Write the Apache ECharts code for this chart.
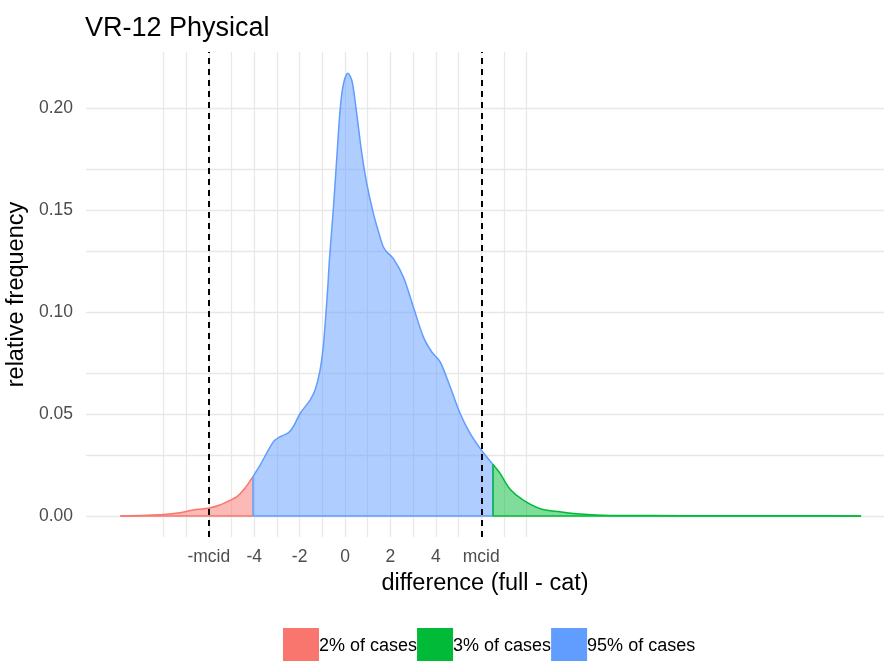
<!DOCTYPE html>
<html>
<head>
<meta charset="utf-8">
<script src="https://cdn.jsdelivr.net/npm/echarts@6/dist/echarts.min.js"></script>
<style>
  html, body { margin: 0; padding: 0; background: #fff; }
  #chart { width: 884px; height: 661px; }
</style>
</head>
<body>
<div id="chart"></div>
<script>
// Density of the score difference, split into three shaded regions
const mcid = 6;

// lower tail (below the 2.5% cut)
const lowerX = [-9.9, -9.0, -8.0, -7.27, -6.8, -6.47, -6.03, -5.51, -5.1, -4.76, -4.41, -4.06];
const lowerY = [0.0, 0.0003, 0.0007, 0.0016, 0.0027, 0.0033, 0.0038, 0.0054, 0.0075, 0.0095, 0.0136, 0.0193];

// central region
const middleX = [-4.06, -3.74, -3.16, -2.86, -2.50, -2.28, -1.98, -1.54, -1.32, -1.10, -0.96, -0.84, -0.74,
  -0.69, -0.52, -0.37, -0.22, -0.07, 0.12, 0.30, 0.44, 0.59, 0.74, 0.96, 1.25, 1.54, 1.69, 1.84,
  2.13, 2.57, 3.01, 3.45, 3.82, 4.19, 4.63, 5.07, 5.51, 5.95, 6.50];
const middleY = [0.0193, 0.025, 0.0364, 0.0389, 0.0408, 0.0438, 0.0503, 0.0569, 0.0618, 0.0716, 0.083, 0.0995, 0.1157,
  0.1255, 0.15, 0.1745, 0.199, 0.212, 0.2173, 0.2137, 0.2039, 0.1908, 0.1778, 0.163, 0.1484, 0.137, 0.132, 0.1296,
  0.1263, 0.1173, 0.1026, 0.0879, 0.0805, 0.0756, 0.0634, 0.0503, 0.0405, 0.0332, 0.0255];

// upper tail
const upperX = [6.50, 6.83, 7.27, 7.85, 8.67, 9.47, 10.35, 11.67, 13.5, 16.0, 19.0, 22.73];
const upperY = [0.0255, 0.0209, 0.0131, 0.0078, 0.0033, 0.0021, 0.001, 0.0003, 0.0002, 0.0001, 0.0001, 0.0];

const regionNames = ['2% of cases', '3% of cases', '95% of cases'];
const regionColors = ['#F8766D', '#00BA38', '#619CFF'];

const xTicks = [-mcid, -4, -2, 0, 2, 4, mcid];
const xTickText = ['-mcid', '-4', '-2', '0', '2', '4', 'mcid'];
const yTicks = [0, 0.05, 0.10, 0.15, 0.20];
const xGrid = [-8, -7, -6, -5, -4, -3, -2, -1, 0, 1, 2, 3, 4, 5, 6, 7, 8];
const yGrid = [0, 0.025, 0.05, 0.075, 0.1, 0.125, 0.15, 0.175, 0.2, 0.225];

const zip = (xs, ys) => xs.map((x, i) => [x, ys[i]]);

function region(name, color, xs, ys, edges) {
  const x0 = xs[0], x1 = xs[xs.length - 1];
  const outline = [[{ coord: [x0, 0] }, { coord: [x1, 0] }]];
  if (edges.left) outline.push([{ coord: [x0, 0] }, { coord: [x0, ys[0]] }]);
  if (edges.right) outline.push([{ coord: [x1, 0] }, { coord: [x1, ys[ys.length - 1]] }]);
  return {
    name: name,
    type: 'line',
    data: zip(xs, ys),
    smooth: 0.3,
    showSymbol: false,
    symbol: 'none',
    z: 3,
    lineStyle: { color: color, width: 1.5 },
    itemStyle: { color: color },
    areaStyle: { color: color, opacity: 0.5 },
    markLine: {
      silent: true,
      symbol: 'none',
      z: 4,
      label: { show: false },
      lineStyle: { color: color, width: 1.5, type: 'solid' },
      emphasis: { disabled: true },
      data: outline
    }
  };
}

const chart = echarts.init(document.getElementById('chart'));

chart.setOption({
  animation: false,
  backgroundColor: '#ffffff',
  textStyle: { fontFamily: 'Liberation Sans, Arial, sans-serif' },
  title: {
    text: 'VR-12 Physical',
    left: 80,
    top: 10,
    textStyle: { fontSize: 27, fontWeight: 'normal', color: '#000' }
  },
  grid: { left: 86, right: 0, top: 52, bottom: 124, outerBoundsMode: 'none', containLabel: false },
  xAxis: {
    type: 'value',
    min: -11.41,
    max: 23.74,
    axisLine: { show: false },
    axisTick: { show: false },
    splitLine: { show: false },
    axisLabel: {
      customValues: xTicks,
      color: '#4d4d4d',
      fontSize: 17.5,
      margin: 11,
      formatter: v => xTickText[xTicks.indexOf(v)] ?? ''
    },
    name: 'difference (full - cat)',
    nameLocation: 'middle',
    nameGap: 35,
    nameTextStyle: { fontSize: 23.5, color: '#000' }
  },
  yAxis: {
    type: 'value',
    min: -0.0103,
    max: 0.2277,
    axisLine: { show: false },
    axisTick: { show: false },
    splitLine: { show: false },
    axisLabel: {
      customValues: yTicks,
      color: '#4d4d4d',
      fontSize: 17.5,
      margin: 13,
      formatter: v => v.toFixed(2)
    },
    name: 'relative frequency',
    nameLocation: 'middle',
    nameGap: 52,
    nameTextStyle: { fontSize: 23.5, color: '#000' }
  },
  legend: {
    data: regionNames.map((n, i) => ({ name: n, icon: 'rect', itemStyle: { color: regionColors[i], opacity: 1 } })),
    left: 283,
    top: 628,
    padding: 0,
    itemWidth: 36,
    itemHeight: 36,
    itemGap: 0,
    textStyle: { fontSize: 18, color: '#000', padding: [8, 0, 0, -5] }
  },
  series: [
    {
      name: 'grid',
      type: 'line',
      data: [],
      silent: true,
      markLine: {
        silent: true,
        symbol: 'none',
        z: 1,
        label: { show: false },
        lineStyle: { color: '#e8e8e8', width: 1.3, type: 'solid' },
        emphasis: { disabled: true },
        data: xGrid.map(v => ({ xAxis: v })).concat(yGrid.map(v => ({ yAxis: v })))
      }
    },
    region(regionNames[0], regionColors[0], lowerX, lowerY, { left: false, right: false }),
    region(regionNames[2], regionColors[2], middleX, middleY, { left: true, right: true }),
    region(regionNames[1], regionColors[1], upperX, upperY, { left: true, right: false }),
    {
      name: 'mcid',
      type: 'line',
      data: [],
      silent: true,
      markLine: {
        silent: true,
        symbol: 'none',
        z: 10,
        label: { show: false },
        lineStyle: { color: '#000', width: 2, type: [6, 5] },
        emphasis: { disabled: true },
        data: [{ xAxis: -mcid }, { xAxis: mcid }]
      }
    }
  ]
});
</script>
</body>
</html>
